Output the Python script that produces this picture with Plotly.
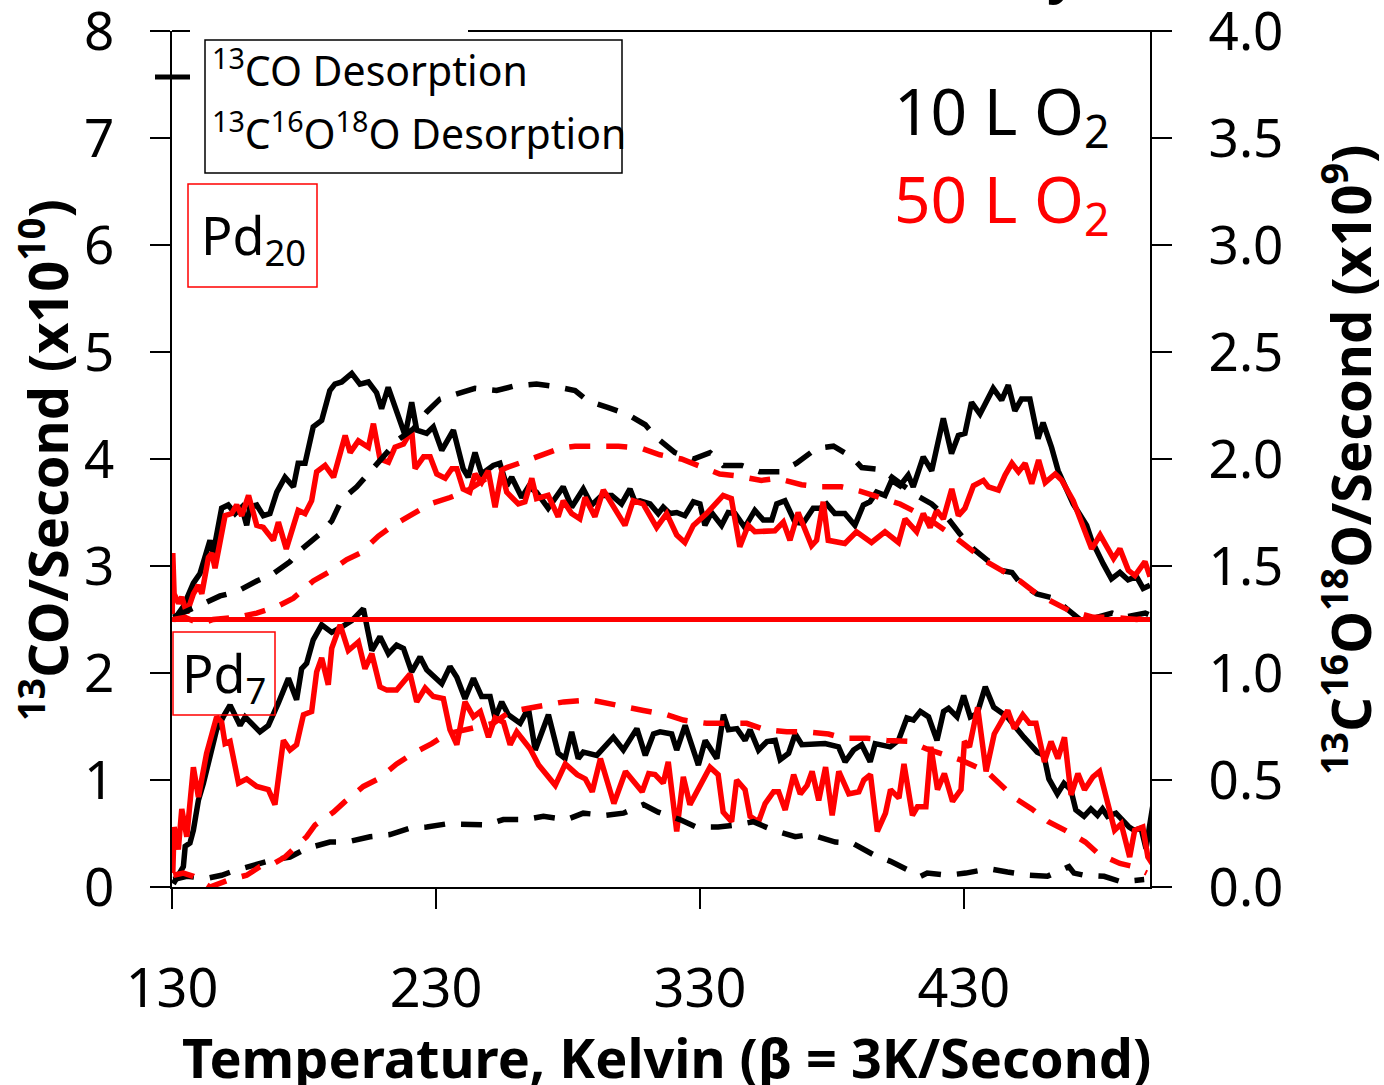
import plotly.graph_objects as go

# ---------------- data (temperature K, signal) ----------------
# Solid lines: 13CO desorption, left axis (x10^10 /s); Pd20 traces drawn above the 2.5 baseline
PD20_CO_10L = [(130.5,2.49),(134.3,2.62),(138.1,2.84),(140.6,2.93),(144.4,3.24),(145.6,3.12),(148.8,3.54),(151.3,3.57),(153.9,3.49),(156.4,3.55),
 (158.3,3.38),(159.5,3.55),(162.1,3.57),(164.6,3.47),(167.1,3.49),(169.7,3.69),(172.8,3.83),(176.0,3.74),(177.8,3.96),(180.4,3.96),
 (183.5,4.30),(186.7,4.36),(189.8,4.64),(191.7,4.70),(194.3,4.72),(198.1,4.80),(201.2,4.70),(204.4,4.72),(207.5,4.62),(209.4,4.47),
 (211.9,4.67),(215.1,4.45),(218.3,4.22),(220.8,4.53),(222.7,4.27),(226.5,4.24),(229.0,4.30),(232.2,4.08),(236.6,4.27),(240.3,3.91),
 (242.2,3.83),(244.8,4.06),(247.3,3.86),(251.7,3.94),(254.2,3.96),(256.8,3.75),(258.7,3.83),(262.5,3.64),(265.0,3.74),(268.1,3.69),
 (272.5,3.54),(278.2,3.74),(281.4,3.55),(285.8,3.72),(289.0,3.57),(292.8,3.66),(296.6,3.66),(300.3,3.58),(303.5,3.72),(305.4,3.60),
 (307.3,3.61),(311.1,3.58),(314.2,3.49),(316.1,3.55),(318.6,3.49),(321.2,3.50),(324.3,3.47),(327.5,3.60),(330.0,3.58),(331.9,3.38),
 (334.4,3.50),(338.2,3.38),(340.7,3.50),(343.3,3.49),(347.0,3.36),(350.8,3.52),(354.0,3.43),(357.2,3.43),(359.1,3.58),(362.2,3.61),
 (366.0,3.41),(369.1,3.40),(372.9,3.54),(375.5,3.54),(378.0,3.58),(381.1,3.49),(384.9,3.49),(388.7,3.38),(391.9,3.57),(394.4,3.60),
 (396.9,3.69),(400.1,3.66),(402.6,3.80),(405.8,3.75),(408.9,3.85),(410.8,3.74),(414.6,4.02),(417.8,3.89),(422.2,4.38),(425.3,4.05),
 (427.9,4.22),(430.4,4.24),(432.9,4.53),(436.1,4.42),(441.1,4.66),(444.3,4.55),(446.8,4.69),(449.3,4.45),(451.8,4.56),(455.0,4.56),
 (458.1,4.19),(460.0,4.34),(463.2,4.11),(465.7,3.89),(471.4,3.58),(476.5,3.38),(478.4,3.24),(482.8,3.02),(485.9,2.88),(489.1,2.94),
 (492.2,2.87),(495.4,2.90),(497.9,2.79),(500.5,2.82)]

PD20_CO_50L = [(130.1,2.55),(130.3,3.12),(130.8,2.74),(132.5,2.65),(133.7,2.71),(135.6,2.56),(138.1,2.74),(140.0,2.82),(141.3,2.74),(143.8,3.08),
 (145.1,3.12),(146.3,2.98),(150.1,3.47),(152.6,3.49),(154.5,3.57),(156.4,3.47),(159.0,3.66),(162.1,3.38),(164.6,3.36),(168.4,3.24),
 (170.3,3.41),(173.3,3.16),(177.8,3.52),(180.4,3.49),(182.9,3.61),(184.8,3.88),(188.0,3.94),(191.2,3.83),(195.6,4.22),(197.5,4.06),
 (200.6,4.17),(204.4,4.11),(206.3,4.33),(208.8,4.00),(212.0,3.97),(214.5,4.11),(217.7,4.14),(220.8,4.27),(222.1,3.91),(225.3,4.02),
 (227.8,4.02),(230.3,3.86),(233.5,3.82),(236.0,3.91),(237.9,3.91),(240.3,3.72),(242.8,3.69),(244.8,3.86),(247.3,3.78),(249.8,3.89),
 (252.4,3.55),(254.9,3.88),(256.8,3.69),(261.2,3.58),(263.7,3.60),(266.3,3.82),(268.1,3.63),(272.5,3.66),(276.3,3.46),(278.2,3.61),
 (281.4,3.49),(284.5,3.44),(286.5,3.64),(290.2,3.46),(293.4,3.71),(297.8,3.52),(301.6,3.38),(304.7,3.61),(308.5,3.58),(313.6,3.36),
 (317.4,3.49),(321.2,3.29),(324.3,3.22),(327.5,3.38),(332.5,3.49),(338.8,3.66),(341.9,3.63),(345.1,3.18),(348.3,3.38),(350.8,3.32),
 (358.4,3.33),(361.6,3.41),(364.1,3.24),(367.2,3.50),(372.3,3.19),(374.2,3.24),(376.7,3.60),(378.6,3.24),(384.9,3.21),(389.3,3.32),
 (395.0,3.22),(400.1,3.32),(405.2,3.22),(407.7,3.44),(412.1,3.32),(414.6,3.49),(417.2,3.36),(419.7,3.52),(422.2,3.44),(425.4,3.72),
 (427.9,3.47),(430.4,3.54),(433.6,3.75),(437.4,3.80),(439.3,3.74),(443.1,3.71),(445.6,3.85),(448.2,3.96),(450.7,3.88),(453.2,3.96),
 (455.7,3.77),(458.3,3.99),(460.8,3.78),(464.6,3.86),(467.1,3.80),(471.4,3.61),(475.3,3.35),(478.4,3.16),(481.6,3.29),(486.7,3.07),
 (489.1,3.16),(492.3,2.96),(494.8,2.91),(498.6,3.04),(500.5,2.90)]

PD7_CO_10L = [(130.5,0.03),(132.4,0.10),(134.3,0.19),(135.0,0.38),(136.8,0.41),(138.1,0.53),(140.0,0.81),(141.9,0.97),(144.4,1.22),(146.9,1.47),
 (149.4,1.59),(152.0,1.70),(155.8,1.51),(157.7,1.59),(163.3,1.45),(166.5,1.51),(170.3,1.72),(174.1,1.95),(177.2,1.75),(179.1,2.04),
 (181.0,2.09),(183.5,2.31),(186.7,2.45),(190.5,2.38),(194.3,2.43),(198.1,2.49),(202.5,2.60),(205.7,2.21),(208.8,2.34),(212.0,2.18),
 (215.1,2.26),(217.7,2.23),(220.8,2.01),(224.0,2.15),(226.5,2.03),(232.2,1.90),(235.3,2.06),(237.9,1.96),(241.0,1.76),(244.2,1.95),
 (247.3,1.78),(250.5,1.78),(252.4,1.58),(254.9,1.73),(257.4,1.61),(261.9,1.53),(265.0,1.67),(267.6,1.28),(272.6,1.61),(276.3,1.25),
 (278.9,1.20),(281.4,1.45),(283.9,1.20),(285.8,1.26),(290.9,1.23),(294.1,1.31),(297.2,1.40),(301.0,1.28),(306.1,1.48),(309.3,1.23),
 (312.4,1.43),(314.9,1.45),(319.3,1.43),(321.2,1.28),(324.4,1.51),(329.4,1.14),(332.0,1.37),(336.4,1.20),(338.9,1.61),(340.8,1.47),
 (344.0,1.48),(347.1,1.37),(349.0,1.47),(352.2,1.28),(355.4,1.36),(358.5,1.37),(360.4,1.19),(363.6,1.25),(366.1,1.43),(368.6,1.33),
 (373.6,1.33),(377.4,1.34),(382.5,1.31),(385.0,1.17),(388.2,1.28),(391.3,1.33),(394.5,1.17),(396.4,1.34),(402.1,1.31),(405.2,1.37),
 (408.4,1.58),(410.9,1.56),(413.5,1.64),(416.6,1.59),(419.8,1.37),(422.3,1.64),(424.2,1.67),(427.4,1.59),(429.9,1.79),(432.4,1.59),
 (435.0,1.62),(438.1,1.87),(441.3,1.68),(446.4,1.59),(452.7,1.40),(457.8,1.26),(460.3,1.23),(462.2,1.01),(465.4,0.87),(467.9,0.97),
 (470.5,0.91),(472.4,0.72),(475.5,0.66),(478.1,0.73),(480.6,0.67),(482.5,0.73),(484.4,0.66),(487.6,0.69),(492.6,0.56),(494.5,0.53),
 (497.1,0.55),(499.0,0.36),(501.5,0.75)]

PD7_CO_50L = [(130.3,0.13),(130.8,0.56),(132.4,0.35),(133.7,0.73),(135.6,0.47),(138.1,1.12),(140.0,0.84),(143.1,1.25),(146.9,1.59),(148.8,1.54),
 (150.1,1.34),(152.0,1.36),(155.2,0.97),(158.3,1.01),(162.1,0.94),(166.5,0.91),(169.0,0.77),(172.2,1.37),(174.7,1.28),(177.2,1.33),
 (179.8,1.61),(182.9,1.64),(184.8,2.01),(186.7,2.14),(189.2,1.89),(190.5,2.23),(193.7,2.45),(196.8,2.21),(200.6,2.29),(203.1,2.04),
 (205.7,2.18),(208.8,1.87),(211.4,1.84),(215.1,1.84),(220.2,1.99),(222.7,1.73),(225.9,1.86),(229.0,1.78),(232.8,1.76),(235.3,1.47),
 (237.9,1.33),(241.0,1.73),(244.2,1.59),(246.8,1.64),(249.9,1.40),(252.4,1.58),(255.6,1.54),(258.1,1.33),(260.6,1.45),(265.7,1.29),
 (268.9,1.14),(275.2,0.95),(279.0,1.15),(283.5,1.05),(286.6,1.01),(289.2,0.89),(292.3,1.20),(297.4,0.78),(301.8,1.08),(308.1,0.89),
 (310.6,1.06),(313.0,1.05),(316.1,0.97),(318.0,1.17),(321.2,0.52),(323.7,1.03),(326.2,0.77),(329.4,0.92),(331.2,0.98),(333.8,1.12),
 (336.9,1.05),(338.8,0.70),(342.0,0.61),(343.9,1.00),(347.1,0.91),(349.0,0.66),(352.2,0.61),(354.7,0.78),(357.9,0.89),(359.8,0.89),
 (362.3,0.72),(365.5,1.05),(368.0,0.87),(370.6,0.95),(372.5,1.08),(375.0,0.81),(377.6,1.12),(380.1,0.67),(382.6,1.08),(386.4,0.87),
 (390.2,0.89),(392.1,1.00),(394.6,1.05),(397.2,0.52),(400.3,0.69),(402.2,0.91),(405.4,0.83),(407.3,1.15),(410.5,0.67),(412.4,0.75),
 (415.6,0.75),(417.5,1.31),(420.0,0.91),(422.6,1.06),(425.7,0.80),(428.9,0.91),(430.2,1.36),(432.1,1.31),(435.2,1.68),(438.4,1.08),
 (441.5,1.43),(446.6,1.65),(449.1,1.48),(452.3,1.61),(454.8,1.53),(457.3,1.53),(460.5,1.17),(463.0,1.36),(465.6,1.20),(468.1,1.40),
 (470.6,0.86),(473.2,1.06),(475.7,0.91),(478.9,1.03),(481.4,1.08),(484.6,0.78),(487.1,0.53),(489.6,0.59),(492.8,0.28),(494.7,0.53),
 (497.8,0.56),(499.7,0.28),(501.6,0.21)]

# Dashed lines: 13C16O18O desorption, right axis (x10^9 /s); Pd20 traces drawn above the 1.25 baseline
PD20_CO2_10L = [(130.5,1.26),(135.6,1.29),(140.6,1.32),(148.2,1.36),(154.5,1.38),(162.1,1.43),(167.8,1.46),(174.7,1.52),(179.2,1.58),(186.1,1.65),
 (190.5,1.71),(194.3,1.81),(200.0,1.87),(205.7,1.95),(209.4,2.00),(215.7,2.09),(221.4,2.14),(226.5,2.22),(231.5,2.28),(239.1,2.31),
 (244.8,2.33),(253.0,2.32),(259.3,2.34),(268.1,2.35),(274.5,2.34),(282.7,2.32),(287.7,2.27),(295.3,2.24),(302.3,2.21),(309.3,2.16),
 (313.5,2.10),(320.5,2.03),(327.5,2.00),(333.8,2.03),(338.8,1.97),(345.8,1.97),(352.7,1.94),(360.3,1.94),(366.6,1.98),(374.2,2.05),
 (380.6,2.06),(387.5,2.01),(391.3,1.96),(398.9,1.95),(405.2,1.89),(412.1,1.83),(417.8,1.79),(424.1,1.72),(428.5,1.65),(433.6,1.58),
 (438.6,1.53),(443.7,1.48),(448.2,1.47),(451.3,1.42),(457.6,1.37),(464.0,1.35),(469.0,1.30),(476.0,1.23),(480.4,1.26),(486.1,1.28),
 (490.5,1.26),(498.7,1.28),(500.5,1.27)]

PD20_CO2_50L = [(130.5,1.25),(135.0,1.26),(140.6,1.23),(145.6,1.25),(154.5,1.26),(162.1,1.28),(169.7,1.31),(176.0,1.35),(183.5,1.43),(189.2,1.47),
 (196.2,1.53),(201.2,1.56),(208.2,1.64),(213.8,1.69),(220.8,1.74),(227.8,1.79),(235.3,1.82),(241.6,1.85),(250.4,1.92),(256.8,1.96),
 (263.7,1.99),(270.0,2.02),(277.0,2.05),(282.7,2.06),(292.8,2.06),(299.1,2.06),(307.9,2.05),(314.8,2.02),(323.0,2.00),(328.7,1.97),
 (337.5,1.93),(344.5,1.92),(353.3,1.90),(359.1,1.91),(368.5,1.88),(375.5,1.87),(383.6,1.87),(390.6,1.85),(398.2,1.82),(405.8,1.79),
 (412.1,1.75),(417.8,1.71),(426.0,1.64),(432.3,1.58),(438.6,1.52),(444.3,1.48),(451.3,1.43),(457.6,1.37),(465.2,1.32),(470.2,1.29),
 (479.1,1.26),(486.7,1.26),(495.5,1.25),(500.5,1.26)]

PD7_CO2_10L = [(130.5,0.035),(135.6,0.05),(143.1,0.04),(148.8,0.055),(154.5,0.08),(162.1,0.105),(167.8,0.125),(174.7,0.14),(181.0,0.18),(189.8,0.21),
 (196.2,0.21),(205.0,0.235),(212.6,0.245),(220.2,0.275),(226.5,0.28),(234.1,0.295),(241.6,0.29),(249.2,0.29),(255.5,0.315),(263.7,0.315),
 (270.7,0.33),(279.5,0.315),(285.8,0.345),(294.1,0.335),(301.0,0.345),(308.6,0.385),(314.2,0.35),(322.4,0.315),(328.7,0.28),(336.9,0.28),
 (343.9,0.29),(350.2,0.305),(357.9,0.265),(366.1,0.235),(371.8,0.245),(381.3,0.21),(387.7,0.205),(395.9,0.15),(402.2,0.12),(409.8,0.07),
 (413.6,0.05),(416.1,0.065),(423.7,0.055),(430.7,0.065),(439.5,0.085),(446.5,0.07),(454.7,0.055),(461.6,0.05),(469.8,0.095),(471.7,0.065),
 (475.5,0.055),(483.1,0.05),(489.4,0.025),(498.3,0.035)]

PD7_CO2_50L = [(130.5,0.055),(134.3,0.065),(138.1,0.05),(144.4,0.0),(152.0,0.035),(158.3,0.055),(163.3,0.095),(167.8,0.105),(172.8,0.14),(177.2,0.19),
 (181.0,0.235),(184.2,0.29),(191.2,0.35),(195.6,0.40),(202.5,0.47),(208.2,0.505),(215.1,0.575),(221.4,0.625),(228.4,0.67),(234.1,0.715),
 (243.6,0.74),(251.8,0.765),(258.1,0.82),(264.4,0.835),(272.0,0.85),(278.4,0.865),(288.4,0.875),(293.5,0.86),(302.3,0.84),(308.6,0.825),
 (317.4,0.805),(323.7,0.78),(332.5,0.765),(340.1,0.765),(347.7,0.765),(354.7,0.735),(362.9,0.725),(370.5,0.725),(378.7,0.715),(384.4,0.695),
 (393.3,0.695),(400.8,0.685),(409.6,0.68),(415.9,0.645),(423.5,0.615),(428.5,0.595),(438.6,0.54),(443.1,0.485),(449.4,0.415),(455.7,0.365),
 (462.0,0.305),(468.4,0.265),(476.0,0.21),(481.0,0.155),(489.1,0.11),(494.2,0.095),(499.3,0.065)]

BASELINE_LEFT = 2.5  # separator between Pd7 (below) and Pd20 (above)
X_TICKS = [130, 230, 330, 430]
Y_LEFT_TICKS = [0, 1, 2, 3, 4, 5, 6, 7, 8]
Y_RIGHT_TICKS = [0.0, 0.5, 1.0, 1.5, 2.0, 2.5, 3.0, 3.5, 4.0]

BLACK = "#000000"
RED = "#FF0000"
FONT = "Noto Sans"
DASH = "21px,16px"

fig = go.Figure()

def add(series, color, dash, yaxis, name):
    xs = [p[0] for p in series]
    ys = [p[1] for p in series]
    fig.add_trace(go.Scatter(x=xs, y=ys, mode="lines", name=name, yaxis=yaxis,
                             line=dict(color=color, width=5.5, dash=dash), showlegend=False))

add(PD7_CO_10L, BLACK, "solid", "y", "Pd7 13CO 10 L")
add(PD20_CO_10L, BLACK, "solid", "y", "Pd20 13CO 10 L")
add(PD7_CO_50L, RED, "solid", "y", "Pd7 13CO 50 L")
add(PD20_CO_50L, RED, "solid", "y", "Pd20 13CO 50 L")
add(PD7_CO2_10L, BLACK, DASH, "y2", "Pd7 CO2 10 L")
add(PD20_CO2_10L, BLACK, DASH, "y2", "Pd20 CO2 10 L")
add(PD7_CO2_50L, RED, DASH, "y2", "Pd7 CO2 50 L")
add(PD20_CO2_50L, RED, DASH, "y2", "Pd20 CO2 50 L")

W, H = 1384, 1085
ML, MR, MT, MB = 172, 234, 31, 198
PW, PH = W - ML - MR, H - MT - MB

def px(x):
    return (x - ML) / PW

def py(y):
    return (H - MB - y) / PH

shapes = [
    # baseline separating the two clusters
    dict(type="line", xref="x", yref="y", x0=130, x1=500.5, y0=BASELINE_LEFT, y1=BASELINE_LEFT,
         line=dict(color=RED, width=5), layer="above"),
    # top frame segments
    dict(type="line", xref="paper", yref="paper", x0=px(172), x1=px(190), y0=1, y1=1, line=dict(color=BLACK, width=2)),
    dict(type="line", xref="paper", yref="paper", x0=px(468), x1=px(1171), y0=1, y1=1, line=dict(color=BLACK, width=2)),
    # legend box and line sample
    dict(type="rect", xref="paper", yref="paper", x0=px(205), x1=px(622), y0=py(173), y1=py(40),
         line=dict(color=BLACK, width=1.5)),
    dict(type="line", xref="paper", yref="paper", x0=px(155), x1=px(190), y0=py(77), y1=py(77),
         line=dict(color=BLACK, width=5)),
    # Pd labels boxes
    dict(type="rect", xref="paper", yref="paper", x0=px(188), x1=px(317), y0=py(287), y1=py(184),
         line=dict(color=RED, width=1.5)),
    dict(type="rect", xref="paper", yref="paper", x0=px(173), x1=px(275), y0=py(715), y1=py(632),
         line=dict(color=RED, width=1.5)),
]

annotations = [
    dict(text="<b><sup>13</sup>CO/Second (x10<sup>10</sup>)</b>", xref="paper", yref="paper",
         x=px(45), y=py(460), textangle=-90, showarrow=False, xanchor="center", yanchor="middle",
         font=dict(family=FONT, size=54, color=BLACK)),
    dict(text="<b><sup>13</sup>C<sup>16</sup>O<sup>18</sup>O/Second (x10<sup>9</sup>)</b>", xref="paper", yref="paper",
         x=px(1348), y=py(460), textangle=-90, showarrow=False, xanchor="center", yanchor="middle",
         font=dict(family=FONT, size=54, color=BLACK)),
    dict(text="<b>Temperature, Kelvin (β = 3K/Second)</b>", xref="paper", yref="paper",
         x=px(666), y=py(1057), showarrow=False, xanchor="center", yanchor="middle",
         font=dict(family=FONT, size=54, color=BLACK)),
    # cropped fragment of a title above the chart (only its lowest stroke is visible)
    dict(text="<b>y</b>", xref="paper", yref="paper", x=px(1062), y=py(10),
         showarrow=False, xanchor="center", yanchor="bottom", font=dict(family=FONT, size=54, color=BLACK)),
    dict(text="<sup>13</sup>CO Desorption", xref="paper", yref="paper", x=px(210), y=py(68),
         showarrow=False, xanchor="left", yanchor="middle", font=dict(family=FONT, size=41, color=BLACK)),
    dict(text="<sup>13</sup>C<sup>16</sup>O<sup>18</sup>O Desorption", xref="paper", yref="paper", x=px(210), y=py(131),
         showarrow=False, xanchor="left", yanchor="middle", font=dict(family=FONT, size=41, color=BLACK)),
    dict(text="Pd<sub>20</sub>", xref="paper", yref="paper", x=px(253), y=py(238),
         showarrow=False, xanchor="center", yanchor="middle", font=dict(family=FONT, size=52, color=BLACK)),
    dict(text="Pd<sub>7</sub>", xref="paper", yref="paper", x=px(224), y=py(676),
         showarrow=False, xanchor="center", yanchor="middle", font=dict(family=FONT, size=52, color=BLACK)),
    dict(text="10 L O<sub>2</sub>", xref="paper", yref="paper", x=px(1112), y=py(114),
         showarrow=False, xanchor="right", yanchor="middle", font=dict(family=FONT, size=64, color=BLACK)),
    dict(text="50 L O<sub>2</sub>", xref="paper", yref="paper", x=px(1112), y=py(202),
         showarrow=False, xanchor="right", yanchor="middle", font=dict(family=FONT, size=64, color=RED)),
]

axis_common = dict(ticks="outside", ticklen=20, tickwidth=1.5, tickcolor=BLACK,
                   showline=True, linecolor=BLACK, linewidth=2, showgrid=False, zeroline=False,
                   ticklabeloverflow="allow", tickmode="array", automargin=False)

fig.update_layout(
    width=W, height=H,
    margin=dict(l=ML, r=MR, t=MT, b=MB, pad=0, autoexpand=False),
    paper_bgcolor="white", plot_bgcolor="white",
    showlegend=False,
    shapes=shapes, annotations=annotations,
    xaxis=dict(range=[130, 500.5], tickvals=X_TICKS, ticktext=[str(v) for v in X_TICKS],
               tickfont=dict(family=FONT, size=54, color=BLACK), ticklabelstandoff=33, **axis_common),
    yaxis=dict(range=[0, 8], tickvals=Y_LEFT_TICKS, ticktext=[str(v) for v in Y_LEFT_TICKS],
               tickfont=dict(family=FONT, size=53, color=BLACK), ticklabelstandoff=25, **axis_common),
    yaxis2=dict(range=[0, 4], overlaying="y", side="right", tickvals=Y_RIGHT_TICKS,
                ticktext=[f"{v:.1f}" for v in Y_RIGHT_TICKS],
                tickfont=dict(family=FONT, size=53, color=BLACK), ticklabelstandoff=26, **axis_common),
)

fig.write_html("out.html")
